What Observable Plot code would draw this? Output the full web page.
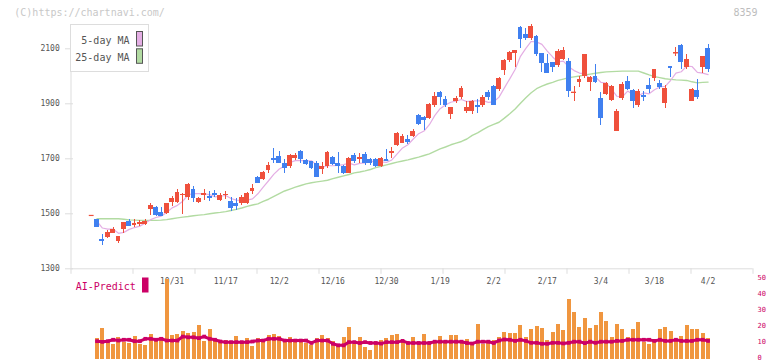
<!DOCTYPE html>
<html>
<head>
<meta charset="utf-8">
<script src="https://cdn.jsdelivr.net/npm/d3@7"></script>
<script src="https://cdn.jsdelivr.net/npm/@observablehq/plot@0.6"></script>
<style>
  body { margin: 0; background: #fff; }
  #chart { position: relative; width: 772px; height: 361px; overflow: hidden; background: #fff; }
  #chart svg { position: absolute; left: 0; top: 0; }
</style>
</head>
<body>
<div id="chart"></div>
<script>
// ---------- data ----------
const dates = ["10/9","10/10","10/14","10/15","10/16","10/17","10/20","10/21","10/22","10/23",
"10/24","10/27","10/28","10/29","10/30","10/31","11/4","11/5","11/6","11/7",
"11/10","11/11","11/12","11/13","11/14","11/17","11/18","11/19","11/20","11/21",
"11/25","11/26","11/27","11/28","12/1","12/2","12/3","12/4","12/5","12/8",
"12/9","12/10","12/11","12/12","12/15","12/16","12/17","12/18","12/19","12/22",
"12/23","12/24","12/25","12/26","12/29","12/30","1/5","1/6","1/7","1/8",
"1/9","1/13","1/14","1/15","1/16","1/19","1/20","1/21","1/22","1/23",
"1/26","1/27","1/28","1/29","1/30","2/2","2/3","2/4","2/5","2/6",
"2/9","2/10","2/12","2/13","2/16","2/17","2/18","2/19","2/20","2/24",
"2/25","2/26","2/27","3/2","3/3","3/4","3/5","3/6","3/9","3/10",
"3/11","3/12","3/13","3/16","3/17","3/18","3/19","3/23","3/24","3/25",
"3/26","3/27","3/30","3/31","4/1","4/2"];

const open = [1494,1479,1406,1415,1430,1400,1443,1473,1456,1460,
1461,1516,1524,1506,1500,1542,1541,1565,1560,1588,
1540,1568,1564,1575,1548,1565,1545,1536,1539,1537,
1581,1633,1625,1657,1702,1708,1684,1673,1702,1728,
1694,1690,1682,1661,1673,1704,1682,1673,1648,1712,
1696,1715,1697,1697,1673,1696,1720,1748,1757,1770,
1781,1857,1849,1848,1894,1942,1916,1861,1909,1922,
1873,1873,1894,1894,1942,1963,1952,2021,2057,2082,
2179,2152,2136,2145,2084,2048,2050,2039,2060,2055,
1939,1979,2000,1979,1999,1918,1934,1912,1800,1920,
1981,1948,1894,1930,1967,1993,1975,1902,2036,2082,
2112,2033,1909,1948,2033,2102];

const high = [1494,1480,1424,1439,1449,1419,1470,1479,1479,1476,
1478,1536,1528,1524,1538,1563,1587,1575,1609,1600,
1561,1587,1581,1585,1575,1580,1558,1556,1565,1577,
1605,1636,1655,1688,1738,1726,1696,1714,1718,1730,
1698,1692,1690,1688,1728,1708,1722,1675,1706,1720,
1720,1722,1700,1700,1705,1734,1742,1795,1789,1785,
1806,1862,1854,1900,1942,1946,1926,1888,1926,1964,
1908,1912,1915,1931,1948,1966,1995,2061,2090,2095,
2182,2173,2188,2150,2084,2078,2050,2097,2106,2064,
1963,1999,2079,1999,2043,1942,1978,1965,1879,1976,
1999,1952,1952,1945,1993,2025,1985,1967,2036,2104,
2115,2079,1957,1988,2072,2115];

const low = [1494,1450,1386,1409,1429,1393,1427,1453,1451,1454,
1456,1494,1492,1490,1497,1527,1536,1499,1548,1542,
1537,1548,1546,1558,1543,1552,1509,1511,1531,1533,
1570,1609,1622,1645,1682,1682,1648,1666,1695,1682,
1675,1662,1633,1643,1666,1675,1648,1642,1645,1684,
1682,1675,1675,1670,1670,1691,1702,1745,1755,1752,
1776,1822,1803,1842,1888,1894,1885,1843,1902,1916,
1864,1860,1866,1888,1912,1894,1945,2003,2050,2033,
2102,2130,2130,2073,2013,2011,2013,2033,2057,1924,
1909,1960,1991,1946,1975,1821,1930,1908,1800,1912,
1948,1884,1888,1909,1936,1982,1951,1884,1997,2072,
2025,2025,1909,1916,2011,2015];

const close = [1494,1451,1400,1433,1443,1418,1468,1455,1466,1469,
1473,1531,1494,1491,1536,1556,1577,1570,1607,1557,
1556,1573,1556,1567,1567,1570,1518,1528,1560,1574,
1591,1611,1649,1676,1694,1684,1666,1712,1712,1696,
1678,1666,1633,1673,1724,1678,1673,1645,1702,1691,
1706,1682,1682,1673,1702,1694,1728,1791,1782,1760,
1799,1825,1839,1897,1926,1924,1894,1888,1919,1954,
1885,1908,1888,1922,1924,1894,1993,2057,2086,2094,
2133,2139,2181,2079,2048,2011,2033,2090,2094,1945,
1942,1988,2079,1997,1979,1848,1975,1963,1872,1970,
1952,1909,1945,1924,1952,2025,1960,1957,2030,2085,
2051,2061,1951,1924,2072,2024];

const ma25 = [null,1482,1482,1482,1482,1482,1480,1478,1477,1476,
1476,1476,1476,1477,1479,1482,1485,1488,1490,1493,
1495,1497,1500,1503,1505,1508,1512,1516,1521,1527,
1532,1536,1545,1553,1563,1573,1583,1590,1597,1603,
1609,1613,1616,1619,1622,1628,1633,1638,1643,1649,
1652,1656,1661,1668,1673,1678,1683,1688,1692,1696,
1701,1706,1712,1718,1727,1736,1743,1751,1757,1763,
1772,1785,1794,1806,1817,1825,1833,1848,1864,1881,
1902,1922,1940,1955,1964,1972,1978,1985,1990,1995,
1998,2001,2005,2008,2011,2014,2016,2017,2018,2019,
2019,2019,2019,2012,2005,1999,1995,1991,1989,1987,
1986,1985,1980,1976,1978,1979];

const volume = [null,12.8,19.2,11.5,9.0,13.6,10.5,9.9,14.0,9.0,
8.4,15.3,12.6,13.6,49.6,14.7,15.3,17.1,15.7,16.7,
20.9,11.1,18.4,11.5,10.1,11.5,10.5,14.0,10.1,12.6,
7.8,12.6,11.5,14.7,15.3,14.0,10.5,13.6,10.5,11.5,
9.9,8.4,13.0,14.7,13.0,10.9,8.4,13.4,19.6,8.8,
13.4,7.2,5.3,9.9,11.5,13.0,14.7,15.3,11.5,10.5,
13.4,10.5,15.3,10.5,10.5,14.0,10.5,14.7,14.7,10.5,
12.2,8.8,21.5,9.0,9.9,11.5,13.4,16.5,15.9,15.9,
20.9,13.4,18.4,20.3,19.0,11.5,16.5,21.5,17.8,37.1,
29.0,19.6,25.2,19.0,20.9,29.0,23.4,13.4,21.5,18.4,
13.4,18.4,22.8,10.3,9.0,10.9,18.4,19.6,17.1,11.5,
14.0,20.9,18.4,18.4,15.9,12.8];

const aiPredict = [null,11.1,10.7,11.1,12.0,11.5,12.0,12.0,11.1,11.1,
12.6,12.6,12.0,12.6,11.5,11.5,11.5,14.0,13.5,13.5,
13.0,14.0,12.6,12.0,10.9,10.5,10.5,10.5,10.5,10.5,
10.9,11.5,11.5,12.6,12.6,12.6,11.5,11.5,11.5,11.5,
11.5,10.0,11.5,11.5,11.5,9.5,8.5,8.5,10.5,10.5,
10.0,10.5,10.0,10.0,9.6,10.5,10.5,10.5,11.3,10.0,
10.0,10.0,10.0,10.0,10.8,10.8,10.8,10.8,10.8,10.8,
10.0,9.6,10.8,10.8,10.8,10.0,11.5,12.2,12.0,11.3,
12.0,11.3,10.1,10.1,9.5,9.5,10.1,10.1,9.7,10.1,
10.8,10.8,9.9,10.8,10.1,10.8,10.8,10.8,11.3,11.3,
12.0,12.0,12.0,12.0,12.0,11.3,12.0,11.3,11.3,12.0,
11.3,11.3,11.3,12.0,12.0,11.3];

const xLabels = ["10/31","11/17","12/2","12/16","12/30","1/19","2/2","2/17","3/4","3/18","4/2"];
const priceTicks = [1300,1500,1700,1900,2100];
const volTicks = [0,10,20,30,40,50];
const legendItems = [{label: "5-day MA", key: "ma5"}, {label: "25-day MA", key: "ma25"}];
const watermark = "(C)https://chartnavi.com/";
const code = "8359";
const aiLabel = "AI-Predict";

// ---------- styling / layout ----------
const MONO = "'DejaVu Sans Mono', 'Liberation Mono', monospace";
const UP = "#ef503c", DOWN = "#4080f0";
const COLORS = {ma5: "#e4aee4", ma25: "#b2dba2", vol: "#f0963f", ai: "#cc0066", axis: "#dddddd", text: "#555555"};
const W = 772, H = 361, ML = 70.5, MR = 19.5;
const xDom = [-3.86, 123.38];
const yDomTop = 2188.4;

const rows = dates.map((d, i) => ({
  i, date: d, o: open[i], h: high[i], l: low[i], c: close[i],
  v: volume[i], ai: aiPredict[i], ma25: ma25[i]
}));
const col = d => (d.c >= d.o ? UP : DOWN);
const labelIdx = xLabels.map(s => dates.indexOf(s));
const xTickVals = d3.range(12).map(k => xDom[0] + (xDom[1] - xDom[0]) * k / 11);

const main = Plot.plot({
  width: W, height: H,
  marginLeft: ML, marginRight: MR, marginTop: 24, marginBottom: 92.7,
  x: {domain: xDom, axis: null},
  y: {domain: [1300, yDomTop], axis: null, label: null},
  style: {fontFamily: MONO, fontSize: "8px", background: "transparent", overflow: "visible", color: COLORS.text},
  marks: [
    Plot.ruleX([xDom[0]], {stroke: COLORS.axis}),
    Plot.ruleY([1300], {stroke: COLORS.axis}),
    Plot.axisY(priceTicks, {anchor: "left", tickSize: 8, dx: 2.5, tickFormat: () => "", stroke: COLORS.axis, label: null}),
    Plot.axisY(priceTicks, {anchor: "left", tickSize: 0, tickPadding: 11.3, tickFormat: d3.format("d"), fill: COLORS.text, label: null}),
    Plot.axisX(xTickVals, {anchor: "bottom", tickSize: 5.5, tickFormat: () => "", stroke: COLORS.axis, label: null}),
    Plot.axisX(labelIdx, {anchor: "bottom", tickSize: 0, tickPadding: 10, tickFormat: i => dates[i], fill: COLORS.text, label: null}),
    Plot.line(rows, {x: "i", y: "ma25", stroke: COLORS.ma25, strokeWidth: 1.4}),
    Plot.line(rows, Plot.filter(d => d.i > 0,
      Plot.windowY({k: 5, anchor: "end", reduce: "mean", strict: false},
        {x: "i", y: "c", stroke: COLORS.ma5, strokeWidth: 1.2}))),
    Plot.ruleX(rows, {x: "i", y1: "l", y2: "h", stroke: col, strokeWidth: 1, shapeRendering: "crispEdges"}),
    Plot.rect(rows, {x1: d => d.i - 0.45, x2: d => d.i + 0.45, y1: "o", y2: "c", fill: col, shapeRendering: "crispEdges"}),
    Plot.ruleY(rows.filter(d => Math.abs(d.c - d.o) < 4), {y: "c", x1: d => d.i - 0.45, x2: d => d.i + 0.45, stroke: col, strokeWidth: 1.2})
  ]
});

const vol = Plot.plot({
  width: W, height: H,
  marginLeft: ML, marginRight: MR, marginTop: 278.3, marginBottom: 2.5,
  x: {domain: xDom, axis: null},
  y: {domain: [0, 50], axis: null, label: null},
  style: {fontFamily: MONO, fontSize: "7px", background: "transparent", overflow: "visible"},
  marks: [
    Plot.ruleX(rows.filter(d => d.v != null), {x: "i", y1: 0, y2: "v", stroke: COLORS.vol, strokeWidth: 4, shapeRendering: "crispEdges"}),
    Plot.line(rows, {x: "i", y: "ai", stroke: COLORS.ai, strokeWidth: 3}),
    Plot.dot(rows.filter(d => d.ai != null), {x: "i", y: "ai", symbol: "square", r: 2.1, fill: COLORS.ai}),
    Plot.axisY(volTicks, {anchor: "right", tickSize: 0, tickPadding: 4.5, dy: -1.5, tickFormat: d3.format("d"), fill: COLORS.ai, label: null})
  ]
});

const chart = document.getElementById("chart");
chart.appendChild(main);
chart.appendChild(vol);

// ---------- overlay texts: watermark, code, legend, AI label ----------
const ov = d3.select(chart).append("svg")
  .attr("width", W).attr("height", H)
  .style("font-family", MONO).style("overflow", "visible");

ov.append("text").attr("x", 14.3).attr("y", 16).attr("font-size", 10)
  .attr("fill", "#c8c8c8").text(watermark);
ov.append("text").attr("x", 757.5).attr("y", 16).attr("font-size", 10)
  .attr("text-anchor", "end").attr("fill", "#bdbdbd").text(code);

const lg = ov.append("g");
lg.append("rect").attr("x", 70.5).attr("y", 24.5).attr("width", 78).attr("height", 47)
  .attr("fill", "#fff").attr("stroke", COLORS.axis);
legendItems.forEach((it, k) => {
  lg.append("text").attr("x", 129.5).attr("y", 44.3 + k * 16.7).attr("font-size", 10)
    .attr("text-anchor", "end").attr("fill", COLORS.text).text(it.label);
  lg.append("rect").attr("x", 136.5).attr("y", 31.5 + k * 17.3).attr("width", 6).attr("height", 14.5)
    .attr("fill", COLORS[it.key]).attr("stroke", "#555").attr("stroke-width", 1);
});

ov.append("text").attr("x", 75.7).attr("y", 289.5).attr("font-size", 10)
  .attr("fill", COLORS.ai).text(aiLabel);
ov.append("rect").attr("x", 142).attr("y", 277.5).attr("width", 6.5).attr("height", 15)
  .attr("fill", COLORS.ai);
</script>
</body>
</html>
